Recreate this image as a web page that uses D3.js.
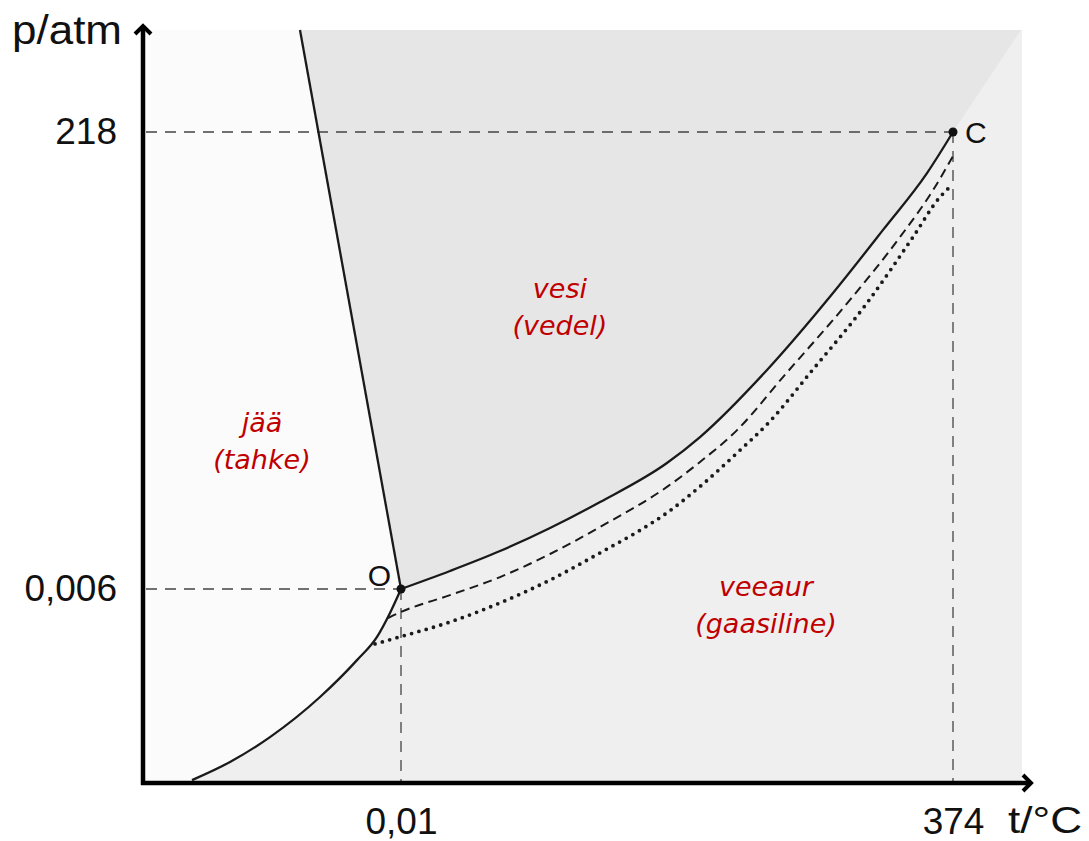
<!DOCTYPE html>
<html>
<head>
<meta charset="utf-8">
<script src="https://cdn.jsdelivr.net/npm/d3@7"></script>
<style>
  html, body { margin: 0; padding: 0; background: #ffffff; }
  svg { display: block; }
</style>
</head>
<body>
<svg id="chart" width="1089" height="841"></svg>
<script>
// ---- data (t in °C, p in atm; schematic diagram) ----
const tDomain = [-30, 0.01, 374, 420];
const pDomain = [0, 0.006, 218, 267];
const tTicks = [0.01, 374];
const pTicks = [0.006, 218];
const triplePoint = { t: 0.01, p: 0.006, label: "O" };
const criticalPoint = { t: 374, p: 218, label: "C" };

// melting curve (ice / water)
const meltT = [0.01, -11.74];
const meltP = [0.006, 267];

// sublimation curve (ice / vapour)
const sublT = [-24.3, -19.88, -15.23, -9.41, -5.11, -2.78, -1.27, 0.01];
const sublP = [0.00009, 0.00065, 0.00142, 0.00266, 0.00380, 0.00452, 0.00526, 0.006];

// vaporisation curve (water / vapour)
const vapT = [0.01, 33.2, 67.1, 101.0, 134.9, 180.2, 202.6, 248.0, 292.7, 326.6, 356.4, 374];
const vapP = [0.006, 8.6, 18.1, 29.1, 41.5, 60.1, 72.5, 104.5, 141.2, 171.3, 198.4, 218];

// dashed curve
const dashT = [-1.50, 0.01, 33.2, 67.1, 101.0, 134.9, 180.2, 202.6, 227.7, 258.8, 304.2, 338.1, 360.5, 374];
const dashP = [0.00510, 0.00529, 0.00581, 5.7, 16.7, 29.6, 48.7, 60.6, 75.8, 101.1, 137.9, 167.9, 190.3, 206.5];

// dotted curve
const dotT = [-3.01, -0.11, 33.2, 67.1, 101.0, 138.3, 160.0, 180.9, 204.6, 227.7, 250.1, 277.1, 315.7, 346.9, 365.2, 371.9];
const dotP = [0.00430, 0.00452, 0.00498, 0.00557, 4.3, 18.6, 27.2, 36.7, 50.1, 64.9, 80.1, 103.0, 136.4, 167.9, 187.0, 191.8];

// supercritical boundary (liquid shading ends)
const scT = [374, 419.3];
const scP = [218, 267];

// region labels
const regionLabels = [
  { t: -16.16, p: 74.9, lines: ["jää", "(tahke)"] },
  { t: 107.7, p: 138.8, lines: ["vesi", "(vedel)"] },
  { t: 247.3, p: 0.00578, lines: ["veeaur", "(gaasiline)"] }
];
const xLabel = "t/°C";
const yLabel = "p/atm";

// ---- drawing ----
const svg = d3.select("#chart");
const x = d3.scaleLinear().domain(tDomain).range([143, 401, 953, 1022]);
const y = d3.scaleLinear().domain(pDomain).range([783, 589, 132, 30]);
const loc = d3.formatLocale({ decimal: ",", thousands: " ", grouping: [3], currency: ["", ""] });
const fmt = loc.format("~");

const zip = (ts, ps) => ts.map((t, i) => [t, ps[i]]);
const line = d3.line().x(d => x(d[0])).y(d => y(d[1])).curve(d3.curveMonotoneX);
const poly = d3.line().x(d => x(d[0])).y(d => y(d[1]));

const melt = zip(meltT, meltP);
const subl = zip(sublT, sublP);
const vap = zip(vapT, vapP);

// background: vapour
svg.append("rect")
  .attr("x", x(tDomain[0])).attr("y", y(pDomain[3]))
  .attr("width", x(tDomain[3]) - x(tDomain[0]))
  .attr("height", y(pDomain[0]) - y(pDomain[3]))
  .attr("fill", "#efefef");

// ice region
{
  const sublRev = subl.slice().reverse();
  const sublStr = d3.line().x(d => x(d[0])).y(d => y(d[1])).curve(d3.curveMonotoneX)(sublRev);
  svg.append("path")
    .attr("d", `M${x(tDomain[0])},${y(pDomain[3])}L${x(meltT[1])},${y(meltP[1])}L` + sublStr.slice(1) +
      `L${x(sublT[0])},${y(0)}L${x(tDomain[0])},${y(0)}Z`)
    .attr("fill", "#fbfbfb");
}

// liquid region
{
  const vapStr = line(vap);
  svg.append("path")
    .attr("d", `M${x(meltT[1])},${y(meltP[1])}L` + vapStr.slice(1) +
      `L${x(scT[1])},${y(scP[1])}Z`)
    .attr("fill", "#e6e6e6");
}

// guide dashed lines
const guide = svg.append("g").attr("stroke", "#444").attr("stroke-width", 1.3)
  .attr("stroke-dasharray", "11,8").attr("fill", "none");
guide.append("line").attr("x1", x(tDomain[0]) + 3).attr("x2", x(criticalPoint.t))
  .attr("y1", y(criticalPoint.p)).attr("y2", y(criticalPoint.p));
guide.append("line").attr("x1", x(tDomain[0]) + 3).attr("x2", x(triplePoint.t))
  .attr("y1", y(triplePoint.p)).attr("y2", y(triplePoint.p));
guide.append("line").attr("x1", x(triplePoint.t)).attr("x2", x(triplePoint.t))
  .attr("y1", y(triplePoint.p)).attr("y2", y(0));
guide.append("line").attr("x1", x(criticalPoint.t)).attr("x2", x(criticalPoint.t))
  .attr("y1", y(criticalPoint.p)).attr("y2", y(0));

// curves
svg.append("path").attr("d", poly(melt)).attr("fill", "none").attr("stroke", "#1a1a1a").attr("stroke-width", 2.3);
svg.append("path").attr("d", line(subl)).attr("fill", "none").attr("stroke", "#1a1a1a").attr("stroke-width", 2.3);
svg.append("path").attr("d", line(vap)).attr("fill", "none").attr("stroke", "#1a1a1a").attr("stroke-width", 2.3);
svg.append("path").attr("d", line(zip(dashT, dashP))).attr("fill", "none").attr("stroke", "#1a1a1a")
  .attr("stroke-width", 2).attr("stroke-dasharray", "9,5.5");
svg.append("path").attr("d", line(zip(dotT, dotP))).attr("fill", "none").attr("stroke", "#1a1a1a")
  .attr("stroke-width", 3.8).attr("stroke-linecap", "round").attr("stroke-dasharray", "0,7.6");

// points
[triplePoint, criticalPoint].forEach(pt => {
  svg.append("circle").attr("cx", x(pt.t)).attr("cy", y(pt.p)).attr("r", 4.5).attr("fill", "#111");
});
svg.append("text").attr("x", x(triplePoint.t) - 10).attr("y", y(triplePoint.p) - 3)
  .attr("text-anchor", "end").attr("font-family", "Liberation Sans, Arial, sans-serif")
  .attr("font-size", 30).attr("fill", "#111").text(triplePoint.label);
svg.append("text").attr("x", x(criticalPoint.t) + 12).attr("y", y(criticalPoint.p) + 11)
  .attr("font-family", "Liberation Sans, Arial, sans-serif")
  .attr("font-size", 30).attr("fill", "#111").text(criticalPoint.label);

// axes
const yAxis = d3.axisLeft(y).tickValues(pTicks).tickSize(0).tickPadding(26).tickFormat(fmt);
const xAxis = d3.axisBottom(x).tickValues(tTicks).tickSize(0).tickPadding(25).tickFormat(fmt);
const gy = svg.append("g").attr("transform", `translate(${x(tDomain[0])},0)`).call(yAxis);
const gx = svg.append("g").attr("transform", `translate(0,${y(0)})`).call(xAxis);
[gy, gx].forEach(g => {
  g.select(".domain").remove();
  g.selectAll("text").attr("font-family", "Liberation Sans, Arial, sans-serif")
    .attr("font-size", 37).attr("fill", "#111");
});

// axis lines with arrows
const ax = svg.append("g").attr("stroke", "#000").attr("stroke-width", 4.5).attr("fill", "none");
const x0 = x(tDomain[0]), y0 = y(0);
ax.append("line").attr("x1", x0).attr("x2", x0).attr("y1", y0 + 2).attr("y2", 27);
ax.append("path").attr("d", `M${x0 - 8},${34}L${x0},${26}L${x0 + 8},${34}`)
  .attr("stroke-linejoin", "miter").attr("stroke-width", 4);
ax.append("line").attr("x1", x0 - 2).attr("x2", 1030).attr("y1", y0).attr("y2", y0);
ax.append("path").attr("d", `M${1023},${y0 - 8}L${1031},${y0}L${1023},${y0 + 8}`)
  .attr("stroke-linejoin", "miter").attr("stroke-width", 4);

// axis titles
svg.append("text").attr("x", 12).attr("y", 44)
  .attr("font-family", "Liberation Sans, Arial, sans-serif").attr("font-size", 40)
  .attr("textLength", 110).attr("lengthAdjust", "spacingAndGlyphs")
  .attr("fill", "#111").text(yLabel);
svg.append("text").attr("x", 1008).attr("y", 833)
  .attr("font-family", "Liberation Sans, Arial, sans-serif").attr("font-size", 37)
  .attr("textLength", 74).attr("lengthAdjust", "spacingAndGlyphs")
  .attr("fill", "#111").text(xLabel);

// region labels (one text element per line)
regionLabels.forEach(r => {
  r.lines.forEach((s, i) => {
    svg.append("text").attr("text-anchor", "middle")
      .attr("font-family", "DejaVu Sans, sans-serif").attr("font-style", "italic")
      .attr("font-size", 27).attr("fill", "#c00000")
      .attr("x", x(r.t)).attr("y", y(r.p) + i * 37).text(s);
  });
});
</script>
</body>
</html>
